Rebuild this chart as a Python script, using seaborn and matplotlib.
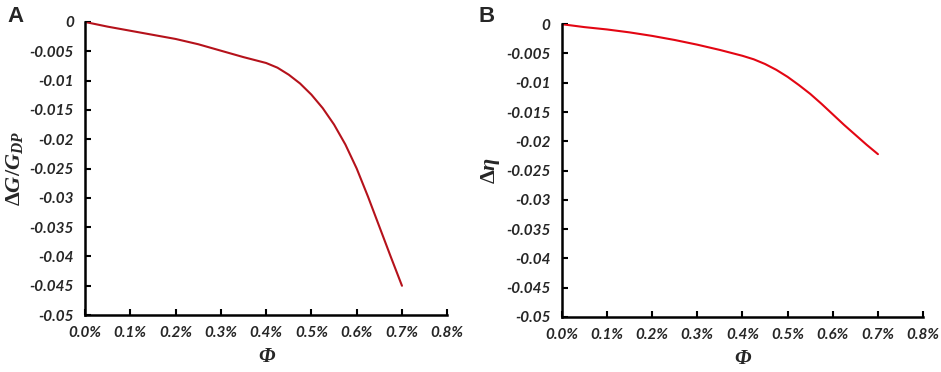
import matplotlib
matplotlib.use("Agg")
import matplotlib.pyplot as plt
import seaborn as sns
import pandas as pd

phi_a = [0.0, 0.05, 0.1, 0.15, 0.2, 0.25, 0.3, 0.35, 0.4, 0.425, 0.45, 0.475, 0.5, 0.525,
         0.55, 0.575, 0.6, 0.625, 0.65, 0.675, 0.7]
dg_a = [0.0, -0.0008, -0.0015, -0.0022, -0.0029, -0.0038, -0.0049, -0.0060, -0.0070, -0.0078,
        -0.0090, -0.0105, -0.0124, -0.0147, -0.0175, -0.0209, -0.0250, -0.0298, -0.0349,
        -0.0400, -0.0450]
phi_b = [0.0, 0.05, 0.1, 0.15, 0.2, 0.25, 0.3, 0.35, 0.4, 0.425, 0.45, 0.475, 0.5, 0.525,
         0.55, 0.575, 0.6, 0.625, 0.65, 0.675, 0.7]
deta_b = [0.0, -0.0005, -0.0009, -0.0014, -0.0020, -0.0027, -0.0035, -0.0044, -0.0054, -0.0060,
          -0.0068, -0.0078, -0.0090, -0.0104, -0.0119, -0.0136, -0.0154, -0.0172, -0.0189,
          -0.0206, -0.0222]
xticks = [0.0, 0.1, 0.2, 0.3, 0.4, 0.5, 0.6, 0.7, 0.8]
xticklabels = ["0.0%", "0.1%", "0.2%", "0.3%", "0.4%", "0.5%", "0.6%", "0.7%", "0.8%"]
yticks = [0, -0.005, -0.01, -0.015, -0.02, -0.025, -0.03, -0.035, -0.04, -0.045, -0.05]
yticklabels = ["0", "-0.005", "-0.01", "-0.015", "-0.02", "-0.025", "-0.03", "-0.035", "-0.04", "-0.045", "-0.05"]

sns.set_style("white")
plt.rcParams["mathtext.fontset"] = "custom"
plt.rcParams["mathtext.rm"] = "Liberation Serif:bold"
plt.rcParams["mathtext.it"] = "Liberation Serif:bold:italic"
plt.rcParams["mathtext.bf"] = "Liberation Serif:bold"

fig = plt.figure(figsize=(9.41, 3.72), dpi=100)
ax_a = fig.add_axes([0.0903, 0.153, 0.385, 0.788])
ax_b = fig.add_axes([0.597, 0.148, 0.384, 0.787])

df_a = pd.DataFrame({"phi": phi_a, "val": dg_a})
df_b = pd.DataFrame({"phi": phi_b, "val": deta_b})
sns.lineplot(data=df_a, x="phi", y="val", ax=ax_a, color="#B5121B", linewidth=1.5)
sns.lineplot(data=df_b, x="phi", y="val", ax=ax_b, color="#E30613", linewidth=1.5)

tickfont = dict(family="Lato", weight="bold", style="italic", size=11)
for ax, ylab in [(ax_a, r"$\Delta G/G_{DP}$"), (ax_b, r"$\Delta\eta$")]:
    ax.set_xlim(0, 0.8)
    ax.set_ylim(-0.05, 0)
    ax.set_xticks(xticks)
    ax.set_xticklabels(xticklabels, fontdict=tickfont)
    ax.set_yticks(yticks)
    ax.set_yticklabels(yticklabels, fontdict=tickfont)
    for s in ["top", "right"]:
        ax.spines[s].set_visible(False)
    for s in ["left", "bottom"]:
        ax.spines[s].set_visible(True)
        ax.spines[s].set_color("black")
        ax.spines[s].set_linewidth(1.8)
    ax.tick_params(axis="both", direction="in", length=4, width=1.5, color="black",
                   bottom=True, left=True, pad=8)
    ax.set_xlabel("Φ", fontfamily="Liberation Serif", fontweight="bold", fontstyle="italic",
                  fontsize=15, labelpad=5)
    ax.set_ylabel(ylab, fontsize=16, labelpad=3)
    ax.grid(False)

fig.text(0.008, 0.985, "A", fontfamily="Liberation Sans", fontweight="bold", fontsize=16, va="top")
fig.text(0.508, 0.985, "B", fontfamily="Liberation Sans", fontweight="bold", fontsize=16, va="top")

fig.savefig("out.png", dpi=100)
